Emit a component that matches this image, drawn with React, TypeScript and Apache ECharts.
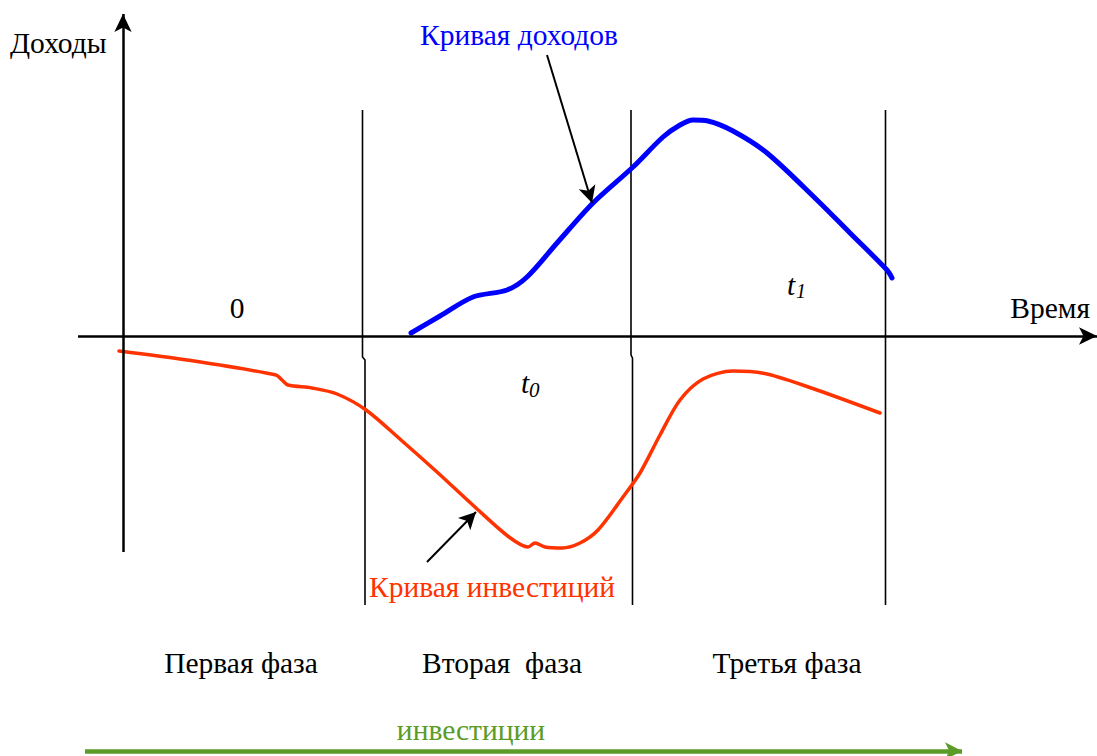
import React, { useEffect, useRef } from "react";
import * as echarts from "echarts";

// Diagram units: x = time (origin at the vertical axis), y = money (origin at the time axis)
const X_MIN = -123;
const X_MAX = 974;
const Y_MIN = -420;
const Y_MAX = 336;

// Income curve (blue)
const incomeCurve: [number, number][] = [
  [288, 3], [317, 20], [350, 39], [384, 46], [404, 59], [434, 93], [470, 133],
  [510, 169], [540, 199], [557, 211], [570, 216], [585, 215], [610, 205],
  [644, 183], [694, 136], [727, 103], [764, 66], [769, 58],
];

// Investment curve (red)
const investmentCurve: [number, number][] = [
  [-4, -15], [64, -24], [153, -39], [159, -44], [165, -49], [189, -52],
  [214, -58], [243, -74], [278, -104], [314, -136], [353, -172], [386, -201],
  [405, -211], [412, -207], [422, -211], [439, -212], [457, -207], [475, -194],
  [500, -161], [517, -137], [537, -99], [557, -64], [580, -43], [610, -35],
  [644, -38], [694, -54], [757, -77],
];

// Phase boundary lines (with the small step where they cross the time axis)
const phaseLine1: [number, number][] = [[239.5, 226], [239.5, -21], [242, -24], [242, -269]];
const phaseLine2: [number, number][] = [[508, 226], [508, -19], [509.5, -22], [509.5, -269]];
const phaseLine3: [number, number][] = [[762.5, 226], [762.5, -269]];

// Axes
const timeAxisSpan: [number, number] = [-45, 974];
const moneyAxisSpan: [number, number] = [-216, 322];

// Pointer arrows
const incomePointer: [[number, number], [number, number]] = [[424, 281], [469, 133]];
const investPointer: [[number, number], [number, number]] = [[304, -226], [353, -176]];
const investArrow: [[number, number], [number, number]] = [[-38, -415], [839, -415]];

const phaseLabels = ["Первая фаза", "Вторая  фаза", "Третья фаза"];

const SERIF = "Liberation Serif";
const FS = 29.5;

export default function App() {
  const ref = useRef<HTMLDivElement>(null);

  useEffect(() => {
    document.body.style.margin = "0";
    if (!ref.current) return;
    const chart = echarts.init(ref.current, undefined, { renderer: "svg" });

    const vline = (data: [number, number][]) => ({
      type: "line",
      data,
      symbol: "none",
      silent: true,
      lineStyle: { color: "#000", width: 1.6 },
      z: 1,
    });

    const txt = (
      text: string,
      x: number,
      y: number,
      align: string,
      color = "#000",
      size = FS,
      italic = false
    ) => ({
      type: "text",
      x,
      y,
      silent: true,
      style: {
        text,
        fill: color,
        fontFamily: SERIF,
        fontSize: size,
        fontStyle: italic ? "italic" : "normal",
        align,
        verticalAlign: "middle",
      },
    });

    chart.setOption({
      animation: false,
      backgroundColor: "#fff",
      grid: { left: 0, right: 0, top: 0, bottom: 0, containLabel: false },
      xAxis: { type: "value", min: X_MIN, max: X_MAX, show: false },
      yAxis: { type: "value", min: Y_MIN, max: Y_MAX, show: false },
      series: [
        {
          type: "line",
          data: [[0, 0]],
          symbol: "none",
          silent: true,
          lineStyle: { width: 0 },
          markLine: {
            silent: true,
            animation: false,
            symbol: ["none", "arrow"],
            symbolSize: [13, 18],
            label: { show: false },
            lineStyle: { color: "#000", width: 2.5, type: "solid" },
            data: [
              [{ coord: [timeAxisSpan[0], 0] }, { coord: [timeAxisSpan[1], 0] }],
              [{ coord: [0, moneyAxisSpan[0]] }, { coord: [0, moneyAxisSpan[1]] }],
            ],
          },
        },
        vline(phaseLine1),
        vline(phaseLine2),
        vline(phaseLine3),
        {
          type: "line",
          data: incomeCurve,
          symbol: "none",
          smooth: 0.3,
          silent: true,
          lineStyle: { color: "#0000ff", width: 5, cap: "round" },
          z: 3,
        },
        {
          type: "line",
          data: investmentCurve,
          symbol: "none",
          smooth: 0.3,
          silent: true,
          lineStyle: { color: "#ff3300", width: 3.5, cap: "round" },
          z: 3,
        },
        {
          type: "line",
          data: [[0, 0]],
          symbol: "none",
          silent: true,
          lineStyle: { width: 0 },
          z: 4,
          markLine: {
            silent: true,
            animation: false,
            symbol: ["none", "arrow"],
            symbolSize: [13, 17],
            label: { show: false },
            lineStyle: { color: "#000", width: 2, type: "solid" },
            data: [
              [{ coord: incomePointer[0] }, { coord: incomePointer[1] }],
              [{ coord: investPointer[0] }, { coord: investPointer[1] }],
            ],
          },
        },
        {
          type: "line",
          data: [[0, 0]],
          symbol: "none",
          silent: true,
          lineStyle: { width: 0 },
          markLine: {
            silent: true,
            animation: false,
            symbol: ["none", "arrow"],
            symbolSize: [13, 17],
            label: { show: false },
            lineStyle: { color: "#5b9b28", width: 4.5, type: "solid" },
            data: [[{ coord: investArrow[0] }, { coord: investArrow[1] }]],
          },
        },
      ],
      graphic: [
        txt("Доходы", 10, 43, "left"),
        txt("Кривая доходов", 519, 35, "center", "#0000ff"),
        txt("0", 237, 308, "center"),
        txt("Время", 1090, 308, "right"),
        txt("t", 787, 285, "left", "#000", FS, true),
        txt("1", 796, 291, "left", "#000", 20, true),
        txt("t", 521, 383, "left", "#000", FS, true),
        txt("0", 529, 390, "left", "#000", 21, true),
        txt("Кривая инвестиций", 492, 587, "center", "#ff3300"),
        txt(phaseLabels[0], 241, 663, "center"),
        txt(phaseLabels[1], 502, 663, "center"),
        txt(phaseLabels[2], 787, 663, "center"),
        txt("инвестиции", 471, 730, "center", "#5b9b28"),
      ],
    });

    return () => chart.dispose();
  }, []);

  return (
    <div
      ref={ref}
      style={{ position: "absolute", left: 0, top: 0, width: 1097, height: 756, background: "#fff" }}
    />
  );
}
